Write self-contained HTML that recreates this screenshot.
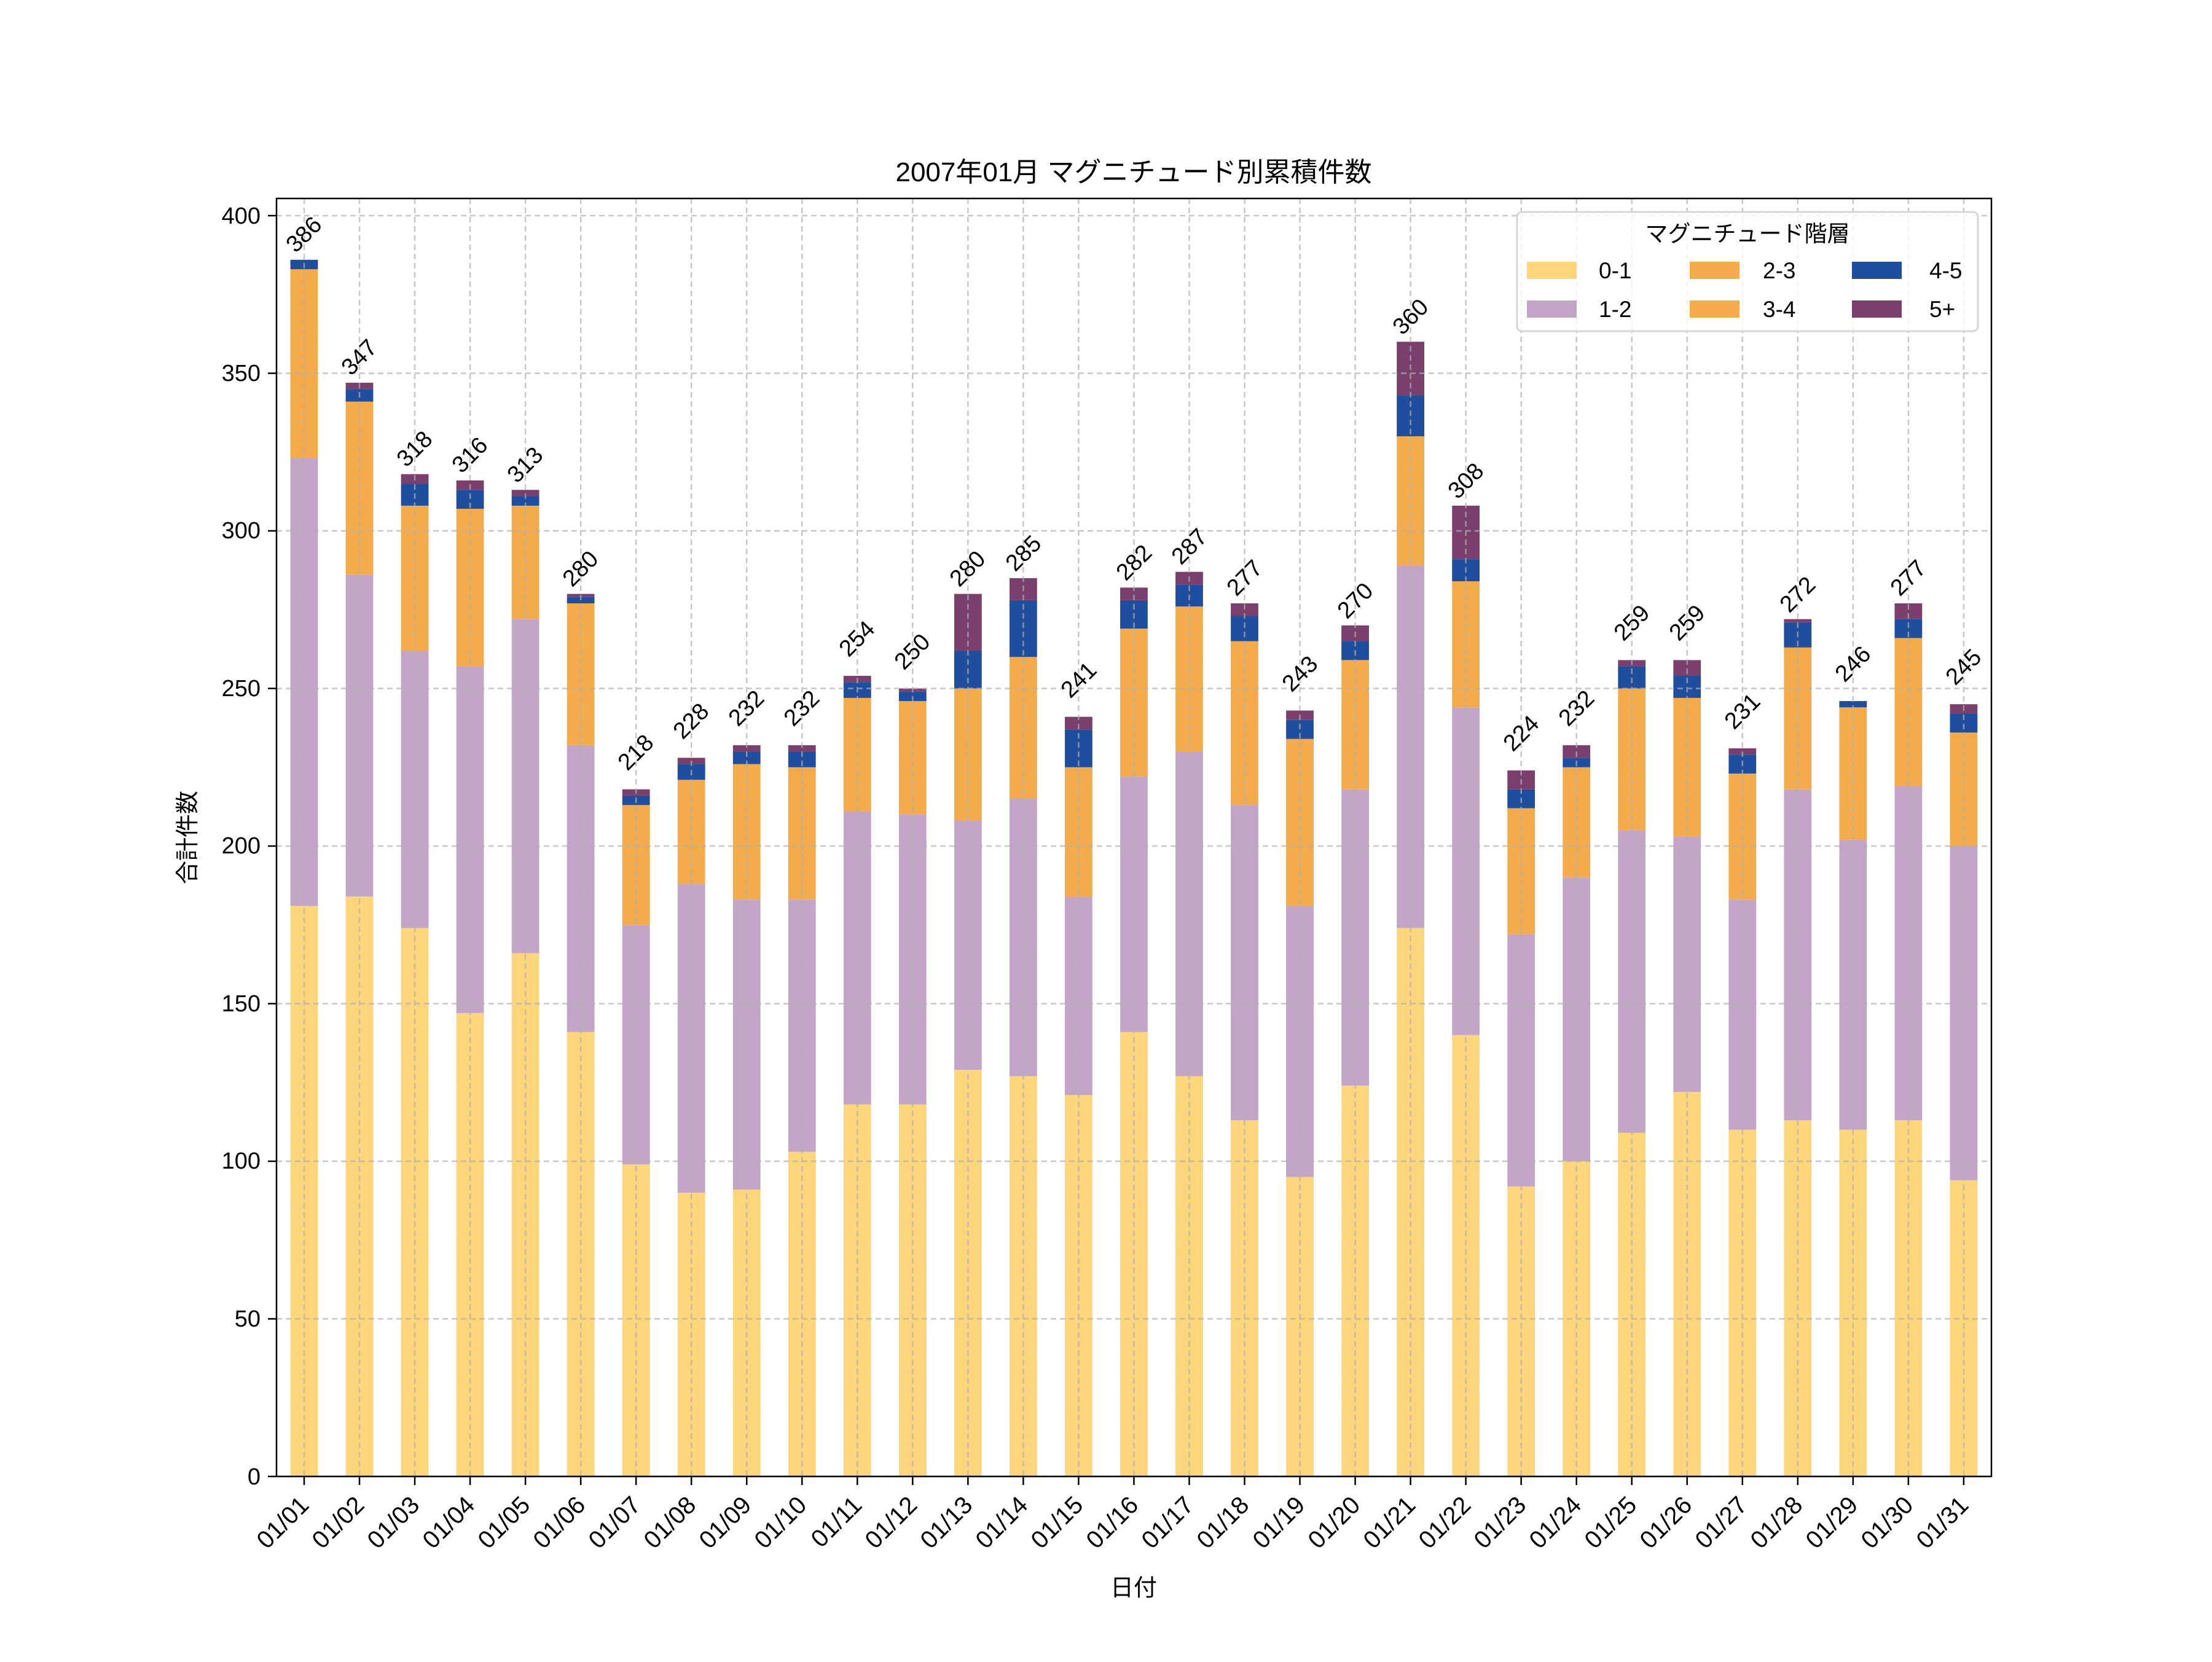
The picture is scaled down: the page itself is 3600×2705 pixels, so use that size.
<!DOCTYPE html>
<html><head><meta charset="utf-8"><style>
html,body{margin:0;padding:0;background:#fff}
svg text{font-family:"Liberation Sans","Noto Sans CJK JP",sans-serif;fill:#000}
</style></head><body>
<svg width="3600" height="2700" viewBox="0 0 3600 2700" xmlns="http://www.w3.org/2000/svg">
<rect width="3600" height="2700" fill="#fff"/>
<g id="bars"></g>
<g id="grid" stroke="#b0b0b0" stroke-width="2.5" stroke-dasharray="9,6" opacity="0.7"></g>
<rect x="450" y="323" width="2791" height="2080" fill="none" stroke="#000" stroke-width="2.5"/>
<g id="ticks" stroke="#000" stroke-width="2.5"></g>
<g font-size="38" text-anchor="end">
<text x="424" y="2416">0</text><text x="424" y="2159">50</text><text x="424" y="1902">100</text><text x="424" y="1646">150</text><text x="424" y="1389">200</text><text x="424" y="1133">250</text><text x="424" y="876">300</text><text x="424" y="620">350</text><text x="424" y="364">400</text>
</g>
<g font-size="40" text-anchor="end">
<text transform="translate(505,2452) rotate(-45)">01/01</text>
<text transform="translate(595,2452) rotate(-45)">01/02</text>
<text transform="translate(685,2452) rotate(-45)">01/03</text>
<text transform="translate(775,2452) rotate(-45)">01/04</text>
<text transform="translate(865,2452) rotate(-45)">01/05</text>
<text transform="translate(955,2452) rotate(-45)">01/06</text>
<text transform="translate(1045,2452) rotate(-45)">01/07</text>
<text transform="translate(1135,2452) rotate(-45)">01/08</text>
<text transform="translate(1225,2452) rotate(-45)">01/09</text>
<text transform="translate(1315,2452) rotate(-45)">01/10</text>
<text transform="translate(1405,2452) rotate(-45)">01/11</text>
<text transform="translate(1495,2452) rotate(-45)">01/12</text>
<text transform="translate(1585,2452) rotate(-45)">01/13</text>
<text transform="translate(1675,2452) rotate(-45)">01/14</text>
<text transform="translate(1765,2452) rotate(-45)">01/15</text>
<text transform="translate(1855,2452) rotate(-45)">01/16</text>
<text transform="translate(1945,2452) rotate(-45)">01/17</text>
<text transform="translate(2035,2452) rotate(-45)">01/18</text>
<text transform="translate(2126,2452) rotate(-45)">01/19</text>
<text transform="translate(2216,2452) rotate(-45)">01/20</text>
<text transform="translate(2306,2452) rotate(-45)">01/21</text>
<text transform="translate(2396,2452) rotate(-45)">01/22</text>
<text transform="translate(2486,2452) rotate(-45)">01/23</text>
<text transform="translate(2576,2452) rotate(-45)">01/24</text>
<text transform="translate(2666,2452) rotate(-45)">01/25</text>
<text transform="translate(2756,2452) rotate(-45)">01/26</text>
<text transform="translate(2846,2452) rotate(-45)">01/27</text>
<text transform="translate(2936,2452) rotate(-45)">01/28</text>
<text transform="translate(3026,2452) rotate(-45)">01/29</text>
<text transform="translate(3116,2452) rotate(-45)">01/30</text>
<text transform="translate(3206,2452) rotate(-45)">01/31</text>
</g>
<g font-size="38" text-anchor="middle" dominant-baseline="central">
<text transform="translate(495,382) rotate(-45)">386</text>
<text transform="translate(585,582) rotate(-45)">347</text>
<text transform="translate(675,731) rotate(-45)">318</text>
<text transform="translate(765,741) rotate(-45)">316</text>
<text transform="translate(855,757) rotate(-45)">313</text>
<text transform="translate(945,926) rotate(-45)">280</text>
<text transform="translate(1035,1225) rotate(-45)">218</text>
<text transform="translate(1125,1174) rotate(-45)">228</text>
<text transform="translate(1215,1153) rotate(-45)">232</text>
<text transform="translate(1305,1153) rotate(-45)">232</text>
<text transform="translate(1395,1040) rotate(-45)">254</text>
<text transform="translate(1485,1061) rotate(-45)">250</text>
<text transform="translate(1575,926) rotate(-45)">280</text>
<text transform="translate(1666,901) rotate(-45)">285</text>
<text transform="translate(1756,1107) rotate(-45)">241</text>
<text transform="translate(1846,916) rotate(-45)">282</text>
<text transform="translate(1936,890) rotate(-45)">287</text>
<text transform="translate(2026,941) rotate(-45)">277</text>
<text transform="translate(2116,1097) rotate(-45)">243</text>
<text transform="translate(2206,978) rotate(-45)">270</text>
<text transform="translate(2296,516) rotate(-45)">360</text>
<text transform="translate(2386,783) rotate(-45)">308</text>
<text transform="translate(2476,1194) rotate(-45)">224</text>
<text transform="translate(2566,1153) rotate(-45)">232</text>
<text transform="translate(2656,1014) rotate(-45)">259</text>
<text transform="translate(2746,1014) rotate(-45)">259</text>
<text transform="translate(2836,1158) rotate(-45)">231</text>
<text transform="translate(2926,968) rotate(-45)">272</text>
<text transform="translate(3016,1081) rotate(-45)">246</text>
<text transform="translate(3106,941) rotate(-45)">277</text>
<text transform="translate(3196,1086) rotate(-45)">245</text>
</g>
<text x="1845" y="295" font-size="44" text-anchor="middle">2007年01月 マグニチュード別累積件数</text>
<text x="1845" y="2597" font-size="38" text-anchor="middle">日付</text>
<text transform="translate(318,1363) rotate(-90)" font-size="38" text-anchor="middle">合計件数</text>
<rect x="2469" y="345" width="750" height="194" rx="8" fill="#fff" fill-opacity="0.8" stroke="#d6d6d6" stroke-width="3"/>
<text x="2844" y="393" font-size="37" text-anchor="middle">マグニチュード階層</text>
<rect x="2485" y="426" width="81" height="28" fill="#FDD57A"/><text x="2602" y="453" font-size="37">0-1</text>
<rect x="2485" y="489" width="81" height="28" fill="#C3A5C8"/><text x="2602" y="516" font-size="37">1-2</text>
<rect x="2750" y="426" width="81" height="28" fill="#F4AB4C"/><text x="2869" y="453" font-size="37">2-3</text>
<rect x="2750" y="489" width="81" height="28" fill="#F4AB4C"/><text x="2869" y="516" font-size="37">3-4</text>
<rect x="3014" y="426" width="81" height="28" fill="#1F4E9F"/><text x="3140" y="453" font-size="37">4-5</text>
<rect x="3014" y="489" width="81" height="28" fill="#7B3F6E"/><text x="3140" y="516" font-size="37">5+</text>
</svg>
<script>
var d=[[181,323,383,386,386],[184,286,341,345,347],[174,262,308,315,318],[147,257,307,313,316],[166,272,308,311,313],[141,232,277,279,280],[99,175,213,216,218],[90,188,221,226,228],[91,183,226,230,232],[103,183,225,230,232],[118,211,247,252,254],[118,210,246,249,250],[129,208,250,262,280],[127,215,260,278,285],[121,184,225,237,241],[141,222,269,278,282],[127,230,276,283,287],[113,213,265,273,277],[95,181,234,240,243],[124,218,259,265,270],[174,289,330,343,360],[140,244,284,291,308],[92,172,212,218,224],[100,190,225,228,232],[109,205,250,257,259],[122,203,247,254,259],[110,183,223,229,231],[113,218,263,271,272],[110,202,244,246,246],[113,219,266,272,277],[94,200,236,242,245]];
var c=["#FDD57A","#C3A5C8","#F4AB4C","#1F4E9F","#7B3F6E"];
function Y(v){return 2403-v*5.13}
var ns="http://www.w3.org/2000/svg",b=document.getElementById("bars"),g=document.getElementById("grid"),t=document.getElementById("ticks");
function el(p,n,a){var e=document.createElementNS(ns,n);for(var k in a)e.setAttribute(k,a[k]);p.appendChild(e);return e}
d.forEach(function(r,i){var cx=495+i*90.03,prev=0;
r.forEach(function(v,j){if(v>prev)el(b,"rect",{x:cx-22.4,y:Y(v),width:44.8,height:Y(prev)-Y(v),fill:c[j]});prev=Math.max(prev,v);});
el(g,"line",{x1:cx,x2:cx,y1:323,y2:2403});
el(t,"line",{x1:cx,x2:cx,y1:2403,y2:2417});
});
for(var v=0;v<=400;v+=50){el(g,"line",{x1:450,x2:3241,y1:Y(v),y2:Y(v)});el(t,"line",{x1:436,x2:450,y1:Y(v),y2:Y(v)});}
</script>
</body></html>
